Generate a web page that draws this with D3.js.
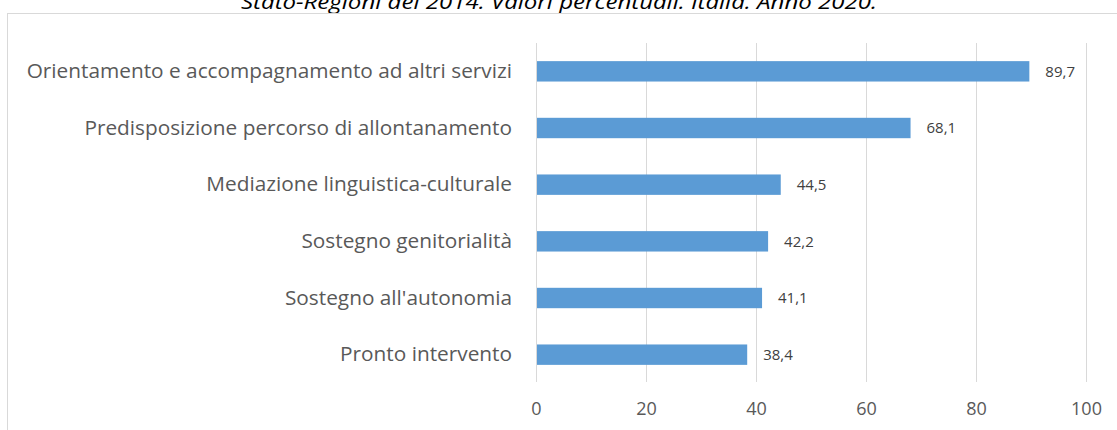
<!DOCTYPE html>
<html>
<head>
<meta charset="utf-8">
<script src="https://cdn.jsdelivr.net/npm/d3@7"></script>
<style>
  body { margin: 0; background: #fff; }
  svg { display: block; font-family: "Open Sans", sans-serif; }
</style>
</head>
<body>
<script>
// data
var categories = [
  'Orientamento e accompagnamento ad altri servizi',
  'Predisposizione percorso di allontanamento',
  'Mediazione linguistica-culturale',
  'Sostegno genitorialità',
  "Sostegno all'autonomia",
  'Pronto intervento'
];
var values = [89.7, 68.1, 44.5, 42.2, 41.1, 38.4];
var tickValues = [0, 20, 40, 60, 80, 100];
var title = 'Stato-Regioni del 2014. Valori percentuali. Italia. Anno 2020.';

var W = 1117, H = 430;

var svg = d3.select('body').append('svg')
  .attr('width', W)
  .attr('height', H);

// title, clipped at the top as in the source
svg.append('text')
  .text(title)
  .attr('x', 559)
  .attr('y', 9)
  .attr('text-anchor', 'middle')
  .attr('font-style', 'italic')
  .attr('font-size', 20)
  .attr('fill', '#000')
  .attr('textLength', 636)
  .attr('lengthAdjust', 'spacingAndGlyphs');

// chart border
svg.append('rect')
  .attr('x', 7.5)
  .attr('y', 13.5)
  .attr('width', W + 10)
  .attr('height', H + 10)
  .attr('fill', 'none')
  .attr('stroke', '#d9d9d9')
  .attr('stroke-width', 1);

var x = d3.scaleLinear()
  .domain([0, 100])
  .range([536, 1086]);

var y = d3.scaleBand()
  .domain(categories)
  .range([43, 383])
  .paddingInner(0.64)
  .paddingOuter(0.32);

// gridlines
svg.append('g')
  .selectAll('line')
  .data(tickValues)
  .join('line')
  .attr('x1', function(d) { return Math.round(x(d)) + 0.5; })
  .attr('x2', function(d) { return Math.round(x(d)) + 0.5; })
  .attr('y1', 43)
  .attr('y2', 382)
  .attr('stroke', '#d9d9d9')
  .attr('stroke-width', 1);

// x axis labels
var xAxis = svg.append('g')
  .attr('transform', 'translate(0,409)')
  .call(d3.axisBottom(x).tickValues(tickValues).tickSize(0).tickPadding(0));
xAxis.select('.domain').remove();
xAxis.selectAll('text')
  .attr('dy', '0.35em')
  .attr('font-family', '"Open Sans", sans-serif')
  .attr('font-size', 18)
  .attr('fill', '#595959');

// category labels
var yAxis = svg.append('g')
  .attr('transform', 'translate(536,0)')
  .call(d3.axisLeft(y).tickSize(0).tickPadding(24));
yAxis.select('.domain').remove();
yAxis.selectAll('text')
  .attr('font-family', '"Open Sans", sans-serif')
  .attr('font-size', 20.8)
  .attr('fill', '#595959');

// bars
svg.append('g')
  .selectAll('rect')
  .data(values)
  .join('rect')
  .attr('x', x(0) + 1)
  .attr('y', function(d, i) { return y(categories[i]); })
  .attr('width', function(d) { return x(d) - x(0) - 1; })
  .attr('height', y.bandwidth())
  .attr('fill', '#5b9bd5');

// value labels
svg.append('g')
  .selectAll('text')
  .data(values)
  .join('text')
  .attr('x', function(d) { return x(d) + 16; })
  .attr('y', function(d, i) { return y(categories[i]) + y.bandwidth() / 2; })
  .attr('dy', '0.35em')
  .attr('font-size', 15)
  .attr('fill', '#404040')
  .text(function(d) { return d3.format('.1f')(d).replace('.', ','); });
</script>
</body>
</html>
